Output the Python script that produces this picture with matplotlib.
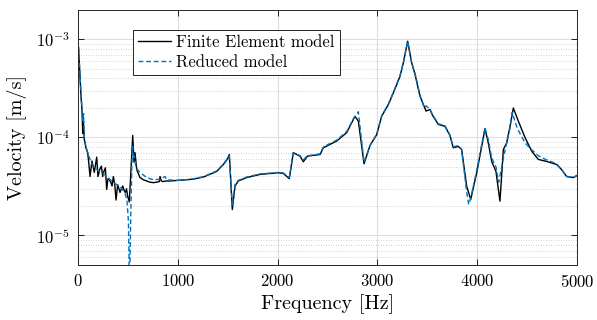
import matplotlib
matplotlib.use("Agg")
import matplotlib.pyplot as plt
from matplotlib.ticker import LogLocator, NullFormatter

plt.rcParams["font.family"] = "serif"
plt.rcParams["font.serif"] = ["cmr10"]
plt.rcParams["mathtext.fontset"] = "cm"
plt.rcParams["axes.formatter.use_mathtext"] = True

# Finite element model response
freq_fe = [5, 30, 40, 47, 52, 63, 80, 97, 108, 120, 140, 163, 187, 200, 220, 234, 247,
           262, 274, 287, 300, 314, 328, 341, 354, 368, 381, 397, 410, 421, 435, 448,
           461, 474, 486, 498, 514, 548, 561, 571, 588, 621, 655, 688, 720, 755, 790,
           815, 822, 835, 849, 885, 922, 1000, 1100, 1150, 1256, 1389, 1456, 1496, 1516,
           1546, 1573, 1606, 1690, 1824, 2007, 2057, 2117, 2157, 2224, 2258, 2298, 2425,
           2458, 2592, 2692, 2766, 2780, 2809, 2866, 2926, 2993, 3043, 3110, 3160, 3226,
           3260, 3303, 3343, 3377, 3427, 3487, 3527, 3550, 3610, 3677, 3727, 3760, 3810,
           3844, 3894, 3935, 3995, 4045, 4078, 4111, 4145, 4188, 4228, 4262, 4295, 4329,
           4362, 4412, 4479, 4546, 4613, 4696, 4796, 4846, 4896, 4963, 5000]
vel_fe = [8.3e-4, 2.6e-4, 1.9e-4, 1.1e-4, 1.6e-4, 9.5e-5, 7.8e-5, 7.0e-5, 5.5e-5, 4.0e-5,
          5.75e-5, 4.4e-5, 6.3e-5, 4.0e-5, 4.8e-5, 5.1e-5, 4.0e-5, 4.6e-5, 4.9e-5, 2.95e-5,
          3.8e-5, 3.7e-5, 3.5e-5, 3.2e-5, 4.0e-5, 3.3e-5, 2.3e-5, 3.3e-5, 3.0e-5, 2.75e-5,
          3.0e-5, 3.2e-5, 2.9e-5, 2.75e-5, 3.0e-5, 2.5e-5, 2.2e-5, 1.05e-4, 5.6e-5, 7.0e-5,
          4.7e-5, 3.9e-5, 3.7e-5, 3.6e-5, 3.5e-5, 3.46e-5, 3.5e-5, 3.55e-5, 4.0e-5, 3.6e-5,
          3.55e-5, 3.6e-5, 3.6e-5, 3.65e-5, 3.72e-5, 3.75e-5, 3.95e-5, 4.5e-5, 5.3e-5, 6.0e-5,
          6.7e-5, 1.84e-5, 3.2e-5, 3.6e-5, 3.9e-5, 4.2e-5, 4.37e-5, 4.3e-5, 3.8e-5, 7.0e-5,
          6.45e-5, 5.65e-5, 6.45e-5, 6.7e-5, 7.85e-5, 9.2e-5, 1.12e-4, 1.58e-4, 1.62e-4,
          1.47e-4, 5.4e-5, 8.3e-5, 1.07e-4, 1.65e-4, 2.17e-4, 2.86e-4, 4.2e-4, 5.8e-4, 9.6e-4,
          5.8e-4, 4.4e-4, 2.64e-4, 1.86e-4, 1.93e-4, 1.7e-4, 1.36e-4, 1.3e-4, 1.05e-4,
          7.85e-5, 8.1e-5, 7.55e-5, 3.2e-5, 2.33e-5, 4.37e-5, 8.1e-5, 1.23e-4, 8.8e-5, 5.7e-5,
          4.5e-5, 2.24e-5, 7.55e-5, 8.8e-5, 1.3e-4, 2.0e-4, 1.47e-4, 1.0e-4, 7.25e-5, 5.97e-5,
          5.7e-5, 5.3e-5, 4.7e-5, 4.0e-5, 3.9e-5, 4.1e-5]

# Reduced order model response
freq_red = [5, 30, 47, 55, 63, 80, 100, 130, 160, 200, 250, 300, 350, 400, 440, 470, 490,
            505, 512, 516, 520, 528, 540, 548, 556, 565, 580, 594, 621, 688, 755, 822, 870,
            890, 1000, 1100, 1150, 1256, 1389, 1456, 1496, 1516, 1546, 1573, 1606, 1690,
            1824, 2007, 2057, 2117, 2157, 2224, 2258, 2298, 2425, 2458, 2592, 2692, 2766,
            2809, 2866, 2926, 2993, 3043, 3110, 3160, 3226, 3260, 3303, 3343, 3377, 3427,
            3470, 3487, 3527, 3550, 3610, 3677, 3727, 3760, 3810, 3844, 3894, 3915, 3935,
            3995, 4045, 4078, 4111, 4145, 4188, 4215, 4245, 4280, 4329, 4350, 4400, 4479,
            4546, 4613, 4696, 4796, 4846, 4896, 4963, 5000]
vel_red = [8.3e-4, 2.8e-4, 1.5e-4, 1.75e-4, 1.0e-4, 8.0e-5, 6.8e-5, 5.6e-5, 5.0e-5, 4.6e-5,
           4.3e-5, 3.9e-5, 3.5e-5, 3.25e-5, 3.0e-5, 2.7e-5, 2.3e-5, 1.4e-5, 5e-6, 2e-6, 5e-6,
           1.5e-5, 5.5e-5, 8.1e-5, 6.0e-5, 6.5e-5, 5.0e-5, 4.7e-5, 4.4e-5, 3.9e-5, 3.7e-5,
           3.75e-5, 4.0e-5, 3.7e-5, 3.65e-5, 3.72e-5, 3.78e-5, 3.98e-5, 4.55e-5, 5.35e-5,
           6.1e-5, 6.5e-5, 2.0e-5, 3.3e-5, 3.65e-5, 3.95e-5, 4.25e-5, 4.4e-5, 4.35e-5, 3.9e-5,
           6.9e-5, 6.55e-5, 5.9e-5, 6.5e-5, 6.8e-5, 8.0e-5, 9.4e-5, 1.15e-4, 1.6e-4, 1.83e-4,
           5.6e-5, 8.3e-5, 1.08e-4, 1.67e-4, 2.2e-4, 2.9e-4, 4.25e-4, 5.8e-4, 9.6e-4, 5.8e-4,
           4.5e-4, 2.7e-4, 2.0e-4, 2.1e-4, 1.95e-4, 1.72e-4, 1.38e-4, 1.32e-4, 1.05e-4, 8.0e-5,
           8.3e-5, 7.5e-5, 2.8e-5, 2.07e-5, 2.4e-5, 4.6e-5, 8.5e-5, 1.25e-4, 9.5e-5, 6.2e-5,
           5.0e-5, 3.5e-5, 5.0e-5, 7.5e-5, 1.25e-4, 1.8e-4, 1.25e-4, 8.8e-5, 7.5e-5, 6.5e-5,
           5.9e-5, 5.4e-5, 4.7e-5, 4.0e-5, 3.9e-5, 4.1e-5]

x_ticks = [0, 1000, 2000, 3000, 4000, 5000]

fig = plt.figure(figsize=(5.97, 3.20), dpi=100)
ax = fig.add_axes([0.1307, 0.1719, 0.8358, 0.7969])

ax.plot(freq_fe, vel_fe, color="black", lw=1.0, label="Finite Element model")
ax.plot(freq_red, vel_red, color="#0072BD", lw=1.0, ls=(0, (3.5, 2)),
        label="Reduced model")

ax.set_yscale("log")
ax.set_xlim(0, 5000)
ax.set_ylim(5e-6, 2e-3)
ax.set_xticks(x_ticks)
ax.yaxis.set_major_locator(LogLocator(base=10, numticks=10))
ax.yaxis.set_minor_locator(LogLocator(base=10, subs=range(2, 10), numticks=20))
ax.yaxis.set_minor_formatter(NullFormatter())

ax.grid(True, which="major", color="#dedede", lw=0.8, ls="-")
ax.grid(True, which="minor", axis="y", color="#c4c4c4", lw=0.6, ls=(0, (1, 2)))
ax.set_axisbelow(True)

ax.tick_params(which="major", direction="in", top=True, right=True, length=4,
               width=0.6, labelsize=12, pad=6)
ax.tick_params(which="minor", length=0)
for s in ax.spines.values():
    s.set_linewidth(0.7)
    s.set_color("#262626")

ax.set_xlabel("Frequency [Hz]", fontsize=14.5, labelpad=3)
ax.set_ylabel("Velocity [m/s]", fontsize=14.5, labelpad=6)

leg = ax.legend(loc="upper left", bbox_to_anchor=(0.11, 0.922), fontsize=12,
                frameon=True, fancybox=False, edgecolor="black", framealpha=1,
                handlelength=2.0, handletextpad=0.3, borderpad=0.3, labelspacing=0.25,
                borderaxespad=0)
leg.get_frame().set_linewidth(0.6)

fig.savefig("out.png", dpi=100)
